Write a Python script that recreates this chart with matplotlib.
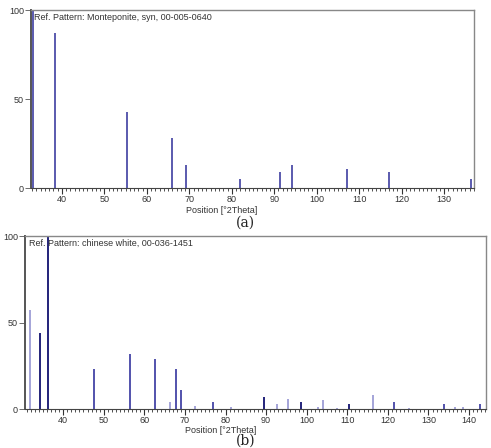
import matplotlib.pyplot as plt
from matplotlib.ticker import MultipleLocator

plt.rcParams['font.family'] = ['Liberation Sans', 'DejaVu Sans']

# (a) Monteponite, syn, 00-005-0640
pos_a = [33.1, 38.4, 55.3, 65.9, 69.2, 82.0, 91.4, 94.2, 107.1, 117.0, 136.3]
int_a = [100, 87, 43, 28, 13, 5, 9, 13, 11, 9, 5]

# (b) chinese white, 00-036-1451
pos_b = [31.7, 34.4, 36.2, 47.5, 56.5, 62.7, 66.3, 67.9, 69.0, 72.5, 76.9, 81.3,
         89.6, 92.6, 95.3, 98.5, 102.9, 104.1, 107.4, 110.3, 116.3, 121.4, 125.2,
         133.9, 136.5, 138.5, 142.8]
int_b = [57, 44, 100, 23, 32, 29, 4, 23, 11, 2, 4, 1,
         7, 3, 6, 4, 1, 5, 0.5, 3, 8, 4, 0.5,
         3, 1, 1, 3]
shade_b = ['l', 'd', 'd', 'm', 'm', 'm', 'l', 'm', 'm', 'l', 'm', 'l',
           'd', 'l', 'l', 'd', 'l', 'l', 'l', 'd', 'l', 'm', 'l',
           'm', 'l', 'l', 'm']

shade_colors = {'d': '#23237a', 'm': '#5252ac', 'l': '#a4a4d8'}

fig = plt.figure(figsize=(4.91, 4.48), dpi=100)
ax1 = fig.add_axes([0.063, 0.580, 0.902, 0.397])
ax2 = fig.add_axes([0.051, 0.087, 0.939, 0.386])


def style(ax, xlim, title, label_x):
    ax.set_xlim(*xlim)
    ax.set_ylim(0, 100)
    ax.set_yticks([0, 50, 100])
    ax.xaxis.set_major_locator(MultipleLocator(10))
    ax.xaxis.set_minor_locator(MultipleLocator(1))
    ax.tick_params(axis='x', which='major', length=4, width=0.8, color='#333333',
                   labelsize=6.5, pad=1, labelcolor='#333333')
    ax.tick_params(axis='x', which='minor', length=2, width=0.6, color='#333333')
    ax.tick_params(axis='y', length=4, width=0.6, color='#555555', labelsize=6.5,
                   pad=1, labelcolor='#333333')
    for s in ['top', 'right']:
        ax.spines[s].set_color('#888888')
        ax.spines[s].set_linewidth(1.0)
    ax.spines['left'].set_color('#555555')
    ax.spines['left'].set_linewidth(1.4)
    ax.spines['bottom'].set_color('#444444')
    ax.spines['bottom'].set_linewidth(0.8)
    ax.set_xlabel('Position [°2Theta]', fontsize=6.5, color='#333333', labelpad=1)
    ax.xaxis.set_label_coords(label_x, -0.10)
    ax.text(0.008, 0.985, title, transform=ax.transAxes, fontsize=6.5,
            color='#333333', va='top', ha='left')


style(ax1, (32.7, 137), 'Ref. Pattern: Monteponite, syn, 00-005-0640', 0.43)
ax1.vlines(pos_a, 0, int_a, colors='#5a5aae', linewidth=1.4)

style(ax2, (30.6, 144.2), 'Ref. Pattern: chinese white, 00-036-1451', 0.425)
ax2.vlines(pos_b, 0, int_b, colors=[shade_colors[s] for s in shade_b], linewidth=1.4)

fig.text(0.5, 0.503, '(a)', ha='center', va='center', fontsize=10,
         family='DejaVu Serif', color='#222222')
fig.text(0.5, 0.016, '(b)', ha='center', va='center', fontsize=10,
         family='DejaVu Serif', color='#222222')

plt.savefig('out.png', dpi=100)
